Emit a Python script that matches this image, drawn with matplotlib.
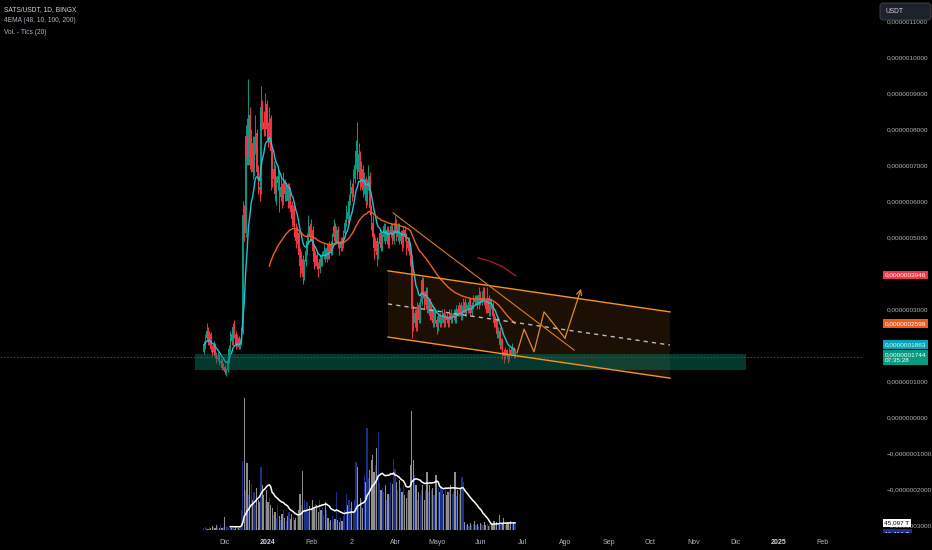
import numpy as np
import pandas as pd
import matplotlib
matplotlib.use("Agg")
import matplotlib.pyplot as plt
import matplotlib.transforms as mtransforms
from matplotlib.patches import FancyBboxPatch, Rectangle, Polygon

plt.rcParams['font.family'] = ['Liberation Sans', 'DejaVu Sans']

# daily candles, prices in units of 1e-7 USDT, first bar on 2023-11-16
start_date = pd.Timestamp("2023-11-16")
first_open = 1.8

closes = [
    2.0, 2.2, 2.4, 2.1, 2.3, 1.9, 1.8, 2.0, 1.7, 1.6, 1.7, 1.5, 1.55, 1.35, 1.4, 1.25, 1.3, 1.55,
    1.9, 2.3, 2.1, 2.5, 2.3, 2.0, 2.2, 1.95, 2.1, 2.4,
    5.6, 5.1, 7.8, 7.2, 8.4, 7.0, 7.6, 6.8, 7.5, 7.9, 6.8, 6.4, 6.3, 8.6, 8.2, 8.0, 8.7, 8.0, 7.7, 8.3, 7.4,
    6.6, 6.9, 6.2, 6.5, 6.7, 6.1, 6.4, 6.0, 6.5, 6.2, 6.4, 6.0, 6.3, 5.9,
    5.5, 5.8, 5.2, 4.9, 5.1, 4.5, 4.2, 4.4,
    3.9, 4.3, 4.6, 4.9, 5.3, 5.0, 5.2,
    4.6, 4.3, 4.5, 4.2, 4.1, 4.4, 4.3, 4.5, 4.6, 4.4, 4.7, 4.5, 4.8, 4.6,
    5.0, 5.3, 4.9, 5.2, 4.8, 4.7, 4.9,
    4.8, 5.1, 5.4, 5.7, 5.5, 6.0, 6.4, 6.2, 6.6, 7.0, 7.4, 6.8,
    7.3, 6.5, 6.9, 6.3, 6.6, 6.0, 6.4, 6.7, 5.8,
    5.4, 5.0, 4.7, 4.9, 4.5, 4.8,
    5.1, 4.7, 5.0, 5.3, 4.9, 5.2, 4.8, 5.1, 5.3, 4.9, 5.2, 5.4,
    5.0, 5.3, 4.9, 5.1, 4.8, 5.2, 5.0, 4.7, 4.9, 4.6, 4.4,
    3.0, 2.6, 2.9, 2.5, 3.1, 2.7, 3.2, 3.8,
    3.4, 3.1, 3.5, 3.0, 3.2, 2.8, 3.0, 2.6, 2.9, 2.7, 2.5,
    2.8, 2.6, 2.7, 2.9, 2.6, 2.8, 2.7, 2.6, 2.9, 2.7, 2.8, 2.9, 2.7, 3.0,
    2.9, 3.1, 2.8, 3.0, 3.2, 2.9, 3.1, 3.0, 3.2, 2.9, 3.1, 3.3, 3.2,
    3.3, 3.1, 3.4, 3.2, 3.3, 3.5, 3.2, 3.0, 3.3, 2.9, 3.2, 3.1, 2.8,
    2.6, 2.7, 2.3, 2.4, 2.0, 2.1, 1.8, 1.7,
    1.85, 1.7, 1.6, 1.85, 1.75, 1.9, 1.7, 1.744,
]
highs = [
    2.1, 2.3, 2.6, 2.5, 2.4, 2.35, 2.0, 2.1, 2.05, 1.8, 1.8, 1.75, 1.65, 1.6, 1.5, 1.45, 1.35, 1.6,
    2.0, 2.4, 2.4, 2.6, 2.7, 2.4, 2.3, 2.25, 2.2, 2.5,
    6.0, 5.9, 8.1, 8.3, 9.4, 8.6, 8.0, 7.8, 7.8, 8.4, 8.0, 7.0, 6.8, 9.2, 8.8, 8.5, 9.0, 8.8, 8.2, 8.6, 8.4,
    7.5, 7.1, 7.0, 6.7, 6.9, 6.8, 6.6, 6.5, 6.8, 6.6, 6.5, 6.5, 6.5, 6.4,
    6.0, 5.9, 5.9, 5.4, 5.3, 5.2, 4.7, 4.6,
    4.5, 4.4, 4.8, 5.1, 5.6, 5.4, 5.5,
    5.3, 4.8, 4.6, 4.6, 4.3, 4.5, 4.5, 4.6, 4.8, 4.7, 4.8, 4.8, 4.9, 4.9,
    5.1, 5.5, 5.4, 5.3, 5.3, 4.9, 5.0,
    5.0, 5.2, 5.5, 5.9, 5.8, 6.2, 6.6, 6.5, 6.9, 7.3, 7.7, 8.2,
    7.6, 7.4, 7.1, 7.0, 6.8, 6.7, 6.6, 7.0, 6.8,
    5.9, 5.6, 5.1, 5.0, 5.0, 4.9,
    5.2, 5.2, 5.1, 5.4, 5.4, 5.3, 5.3, 5.2, 5.4, 5.4, 5.3, 5.6,
    5.5, 5.4, 5.4, 5.2, 5.2, 5.3, 5.3, 5.1, 5.0, 5.0, 4.7,
    4.5, 3.1, 3.0, 3.0, 3.2, 3.2, 3.3, 3.9,
    3.9, 3.5, 3.6, 3.6, 3.3, 3.3, 3.1, 3.1, 3.0, 3.0, 2.8,
    2.9, 2.9, 2.8, 3.0, 3.0, 2.9, 2.9, 2.8, 3.0, 3.0, 2.9, 3.0, 3.0, 3.1,
    3.1, 3.2, 3.2, 3.1, 3.3, 3.3, 3.2, 3.2, 3.3, 3.3, 3.2, 3.4, 3.4,
    3.4, 3.4, 3.6, 3.5, 3.4, 3.6, 3.6, 3.3, 3.6, 3.4, 3.3, 3.3, 3.2,
    2.9, 2.8, 2.8, 2.5, 2.5, 2.2, 2.2, 1.9,
    1.95, 1.9, 1.75, 1.95, 1.95, 2.05, 1.95, 1.85,
]
lows = [
    1.75, 1.9, 2.1, 2.0, 2.0, 1.8, 1.7, 1.75, 1.65, 1.5, 1.55, 1.45, 1.45, 1.3, 1.3, 1.2, 1.15, 1.25,
    1.5, 1.8, 2.0, 2.0, 2.2, 1.9, 1.95, 1.9, 1.9, 2.0,
    2.3, 4.9, 5.0, 7.0, 7.0, 6.9, 6.8, 6.6, 6.7, 7.3, 6.6, 6.2, 6.0, 6.2, 8.0, 7.8, 7.8, 7.9, 7.5, 7.6, 6.3,
    6.4, 6.4, 6.0, 5.9, 6.3, 5.7, 6.0, 5.8, 5.9, 6.0, 6.0, 5.8, 5.8, 5.7,
    5.3, 5.3, 5.0, 4.7, 4.8, 4.3, 3.9, 4.0,
    3.7, 3.8, 4.2, 4.5, 4.8, 4.9, 4.9,
    4.5, 4.1, 4.2, 4.1, 3.9, 4.0, 4.2, 4.2, 4.4, 4.3, 4.3, 4.4, 4.4, 4.5,
    4.5, 4.9, 4.8, 4.8, 4.7, 4.5, 4.6,
    4.6, 4.7, 5.0, 5.3, 5.4, 5.4, 5.9, 6.0, 6.1, 6.5, 6.9, 6.6,
    6.6, 6.3, 6.4, 6.1, 6.2, 5.8, 5.9, 6.3, 5.6,
    5.2, 4.8, 4.4, 4.6, 4.2, 4.4,
    4.7, 4.6, 4.6, 4.9, 4.8, 4.8, 4.7, 4.7, 5.0, 4.8, 4.8, 5.1,
    4.9, 4.9, 4.8, 4.8, 4.6, 4.7, 4.9, 4.5, 4.6, 4.5, 4.2,
    2.2, 2.4, 2.5, 2.4, 2.4, 2.6, 2.6, 3.1,
    3.3, 3.0, 3.0, 2.9, 2.9, 2.7, 2.7, 2.5, 2.5, 2.6, 2.3,
    2.4, 2.5, 2.5, 2.6, 2.5, 2.5, 2.6, 2.5, 2.5, 2.6, 2.6, 2.7, 2.6, 2.6,
    2.8, 2.8, 2.7, 2.7, 2.9, 2.8, 2.8, 2.9, 2.9, 2.8, 2.8, 3.0, 3.1,
    3.1, 3.0, 3.0, 3.1, 3.1, 3.2, 3.1, 2.9, 2.9, 2.8, 2.8, 3.0, 2.7,
    2.5, 2.5, 2.2, 2.2, 1.9, 1.9, 1.6, 1.5,
    1.6, 1.65, 1.5, 1.55, 1.7, 1.7, 1.65, 1.65,
]
# volume in units of ~6.44 T
volume = [
    2, 3, 2, 1, 3, 2, 4, 3, 2, 5, 3, 2, 4, 2, 3, 13, 4, 3,
    2, 3, 2, 2, 1, 3, 2, 2, 4, 20,
    69, 132, 40, 67, 35, 50, 46, 30, 38, 25, 42, 30, 28, 63, 45, 35, 30, 40, 28, 32, 25,
    22, 15, 18, 12, 25, 14, 10, 16, 20, 12, 9, 14, 18, 11, 16, 13, 10, 12, 15,
    20, 36, 25, 59, 30, 22, 28, 18, 24, 20, 30, 22, 26,
    25, 18, 30, 20, 22, 15, 28, 20,
    12, 8, 10, 14, 9, 11, 38, 10, 8, 12, 9, 14,
    20, 36, 25, 30, 22, 28, 18, 30, 68, 63, 25, 32, 30, 22,
    55, 48, 102, 52, 60, 70, 75, 58, 65, 82, 98, 47,
    40, 42, 38, 45, 30, 36, 35, 48, 46, 71,
    61, 48, 40, 50, 42, 38, 45, 35, 32, 38, 40, 65, 119,
    70, 55, 45, 30, 38, 35, 40, 45, 30, 40, 58,
    38, 45, 40, 42, 35, 55, 55,
    42, 38, 44, 40, 36, 42, 35, 38, 40, 45, 36, 38, 58, 34, 40, 36, 42, 53, 48,
    8, 5, 6, 4, 7, 5, 6, 9, 5, 6, 4, 7, 6, 5, 8, 5, 6, 4, 6,
    7, 6, 9, 5, 8, 6, 15, 7, 6, 12, 5, 6, 8, 5, 9, 6, 7, 7,
]

month_dates = ["2023-12-01", "2024-01-01", "2024-02-01", "2024-03-01", "2024-04-01",
               "2024-05-01", "2024-06-01", "2024-07-01", "2024-08-01", "2024-09-01",
               "2024-10-01", "2024-11-01", "2024-12-01", "2025-01-01", "2025-02-01"]
month_labels = ["Dic", "2024", "Feb", "2", "Abr", "Mayo", "Jun", "Jul", "Ago", "Sep",
                "Oct", "Nov", "Dic", "2025", "Feb"]
price_ticks = [-3, -2, -1, 0, 1, 3, 5, 6, 7, 8, 9, 10, 11]

# drawings: x in days from start_date, y in 1e-7 USDT
trend_x = [135.6, 265.3]
trend_y = [5.67, 1.86]
chan_x = [132, 334]
chan_top = [4.06, 2.92]
chan_mid = [3.14, 2.00]
chan_bot = [2.22, 1.08]
zig_x = [224.4, 229.5, 236.6, 243.8, 258.8, 270.3]
zig_y = [1.78, 2.44, 1.81, 2.92, 2.19, 3.56]
arc_x = [196.4, 205.0, 214.3, 223.6]
arc_y = [4.42, 4.33, 4.17, 3.92]
zone_x = [-6.3, 388.4]
zone_y = [1.31, 1.75]
zone_level = 1.667
ema100_last = 3.946

n = len(closes)
assert len(highs) == n and len(lows) == n and len(volume) == n
days = np.arange(n)
c = np.array(closes)
o = np.array([first_open] + closes[:-1])
h = np.array(highs)
l = np.array(lows)
up = c >= o

ema10 = pd.Series(c).ewm(span=10, adjust=False).mean().values
alpha = 2 / 49
ema48 = np.full(n, np.nan)
ema48[47] = c[:48].mean()
for i in range(48, n):
    ema48[i] = alpha * c[i] + (1 - alpha) * ema48[i - 1]
vol_sma = pd.Series(volume).rolling(20).mean().values

GREEN = '#089981'
RED = '#f23645'
ORANGE = '#f7931e'
TXT = '#b2b5be'

fig = plt.figure(figsize=(9.32, 5.5), dpi=100, facecolor='black')
rect = [0, 18 / 550, 862 / 932, 532 / 550]
axv = fig.add_axes(rect)
ax = fig.add_axes(rect)
axv.set_facecolor('black')
ax.set_facecolor('none')
x_range = (-146.0, 471.6)
for a in (ax, axv):
    a.set_xlim(*x_range)
    for sp in a.spines.values():
        sp.set_visible(False)
ax.set_ylim(-3.194, 11.583)
axv.set_ylim(-2, 530)
axv.set_xticks([])
axv.set_yticks([])

# volume
vcols = np.where(up, '#1a2f85', '#8e8e8e')
axv.bar(days, volume, width=0.85, color=vcols, linewidth=0)
axv.plot(days, vol_sma, color='white', lw=1.1)

# parallel channel
ax.add_patch(Polygon([(chan_x[0], chan_top[0]), (chan_x[1], chan_top[1]),
                      (chan_x[1], chan_bot[1]), (chan_x[0], chan_bot[0])],
                     closed=True, fc=ORANGE, alpha=0.11, ec='none', zorder=1))

# candles
ccols = np.where(up, GREEN, RED)
ax.vlines(days, l, h, colors=ccols, lw=0.7, zorder=4)
ax.bar(days, np.maximum(np.abs(c - o), 0.04), bottom=np.minimum(o, c), width=0.85,
       color=ccols, linewidth=0, zorder=5)

ax.plot(days, ema10, color='#22c1d6', lw=1.0, zorder=6)
ax.plot(days, ema48, color='#f2601f', lw=1.0, zorder=6)

# support zone
ax.add_patch(Rectangle((zone_x[0], zone_y[0]), zone_x[1] - zone_x[0], zone_y[1] - zone_y[0],
                       fc='#0b7d6a', alpha=0.45, ec='none', zorder=7))
ax.axhline(zone_level, color='#1d6a5e', lw=0.6, ls=(0, (2, 2)), zorder=7)

# drawings
ax.plot(chan_x, chan_top, color=ORANGE, lw=1.0, zorder=8)
ax.plot(chan_x, chan_bot, color=ORANGE, lw=1.0, zorder=8)
ax.plot(chan_x, chan_mid, color='#b8bcc6', lw=1.0, ls=(0, (3, 3)), zorder=8)
ax.plot(trend_x, trend_y, color='#dd7d1c', lw=0.8, zorder=8)
ax.plot(zig_x[:-1], zig_y[:-1], color='#e08a2a', lw=0.9, zorder=8)
ax.annotate("", xy=(zig_x[-1], zig_y[-1]), xytext=(zig_x[-2], zig_y[-2]),
            arrowprops=dict(arrowstyle="->,head_length=0.35,head_width=0.18",
                            color='#e08a2a', lw=0.9, shrinkA=0, shrinkB=0), zorder=8)
ax.plot(arc_x, arc_y, color='#a3172c', lw=1.0, zorder=8)

# axes labels
def fmt_price(v):
    s = f"{abs(v) * 1e-7:.10f}".replace(".", ",")
    return ("\u2212" if v < 0 else "") + s

ax.yaxis.tick_right()
ax.set_yticks(price_ticks)
ax.set_yticklabels([fmt_price(v) for v in price_ticks])
ax.tick_params(axis='y', length=0, pad=17.5, labelsize=4.6, labelcolor=TXT)

tick_days = [(pd.Timestamp(d) - start_date).days for d in month_dates]
ax.set_xticks(tick_days)
ax.set_xticklabels(month_labels)
ax.tick_params(axis='x', length=0, pad=5, labelsize=5, labelcolor=TXT)
for t in ax.get_xticklabels():
    if t.get_text() in ("2024", "2025"):
        t.set_fontweight('bold')
        t.set_color('#d1d4dc')

# last value boxes on the price scale
def side_label(axis, y, text, fc, tc, dy=0.0, ls=1.0):
    tr = (mtransforms.blended_transform_factory(fig.transFigure, axis.transData)
          + mtransforms.ScaledTranslation(0, dy / 72, fig.dpi_scale_trans))
    fig.text(884.5 / 932, y, text, transform=tr, fontsize=4.6, color=tc, va='center',
             ha='left', linespacing=ls, zorder=4,
             bbox=dict(boxstyle='square,pad=0.28', fc=fc, ec='none'))

side_label(ax, ema100_last, fmt_price(ema100_last), RED, 'white')
side_label(ax, ema48[-1], fmt_price(ema48[-1]), '#f05a1a', 'white')
side_label(ax, ema10[-1], fmt_price(ema10[-1]), '#00a6ba', '#e8f4f6', dy=4.0)
side_label(ax, c[-1], fmt_price(c[-1]) + "\n07:35:28", GREEN, 'white', dy=-2.4, ls=1.25)
side_label(axv, volume[-1], "45,097 T", 'white', 'black')
side_label(axv, volume[-1], "46,416 T", '#1a2f85', 'white', dy=-7.5)
fig.add_artist(Rectangle((862 / 932, 0), 70 / 932, 17 / 550, transform=fig.transFigure,
                         fc='black', ec='none', zorder=5))

# currency button
ident = mtransforms.IdentityTransform()
fig.add_artist(FancyBboxPatch((880, 550 - 20), 51, 17, boxstyle="round,pad=0,rounding_size=3",
                              transform=ident, fc='#1e222d', ec='#434651', lw=0.6, zorder=6))
fig.text(886, 550 - 11.5, "USDT", transform=ident, fontsize=4.8, color='#d1d4dc',
         va='center', ha='left', zorder=7)

# legend header
fig.text(4 / 932, 1 - 10 / 550, "SATS/USDT, 1D, BINGX", fontsize=4.8, color='#d1d4dc', va='center')
fig.text(4 / 932, 1 - 21 / 550, "4EMA (48, 10, 100, 200)", fontsize=4.8, color=TXT, va='center')
fig.text(4 / 932, 1 - 32 / 550, "Vol. - Tics (20)", fontsize=4.8, color=TXT, va='center')

fig.savefig("out.png", dpi=100, facecolor='black')
